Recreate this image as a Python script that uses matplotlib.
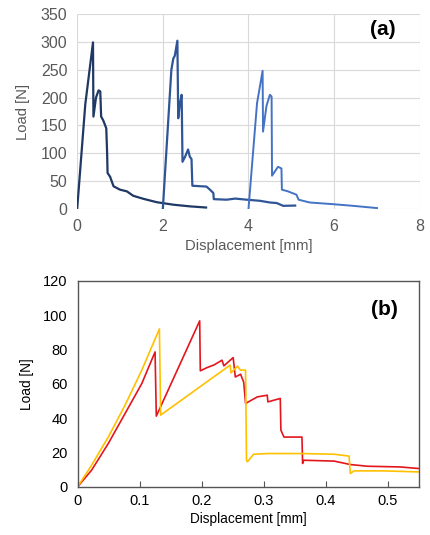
import matplotlib
matplotlib.use('Agg')
import matplotlib.pyplot as plt

plt.rcParams['font.family'] = ['Liberation Sans', 'DejaVu Sans']

# ---- panel (a): three specimens, offset along displacement ----
a1_x = [0.0, 0.19, 0.37, 0.38, 0.44, 0.50, 0.54, 0.56, 0.61, 0.68, 0.70, 0.71, 0.77, 0.85, 1.0, 1.16, 1.31, 1.55, 1.86, 2.25, 2.64, 3.01]
a1_y = [0, 188, 299, 166, 200, 213, 211, 166, 159, 145, 100, 65, 58, 41, 35, 32, 24, 18.5, 12.5, 8, 5, 3]

a2_x = [2.0, 2.20, 2.245, 2.28, 2.34, 2.36, 2.40, 2.44, 2.46, 2.52, 2.59, 2.63, 2.67, 2.69, 3.02, 3.10, 3.18, 3.19, 3.49, 3.69, 3.96, 4.27, 4.50, 4.66, 4.81, 5.09]
a2_y = [0, 250, 270, 275, 302, 163, 190, 205, 85, 94, 107, 94, 90, 42, 40.5, 35, 29, 18, 17, 19, 17, 15, 12, 11, 6, 6.5]

a3_x = [4.0, 4.20, 4.33, 4.34, 4.42, 4.50, 4.54, 4.55, 4.62, 4.69, 4.77, 4.78, 4.92, 5.12, 5.17, 5.43, 5.97, 6.44, 7.0]
a3_y = [0, 190, 248, 139, 185, 205, 202, 60, 68, 76, 73, 35, 32, 26, 17, 12, 9, 6, 2]

# ---- panel (b) ----
red_x = [0.0, 0.0226, 0.0496, 0.0766, 0.1036, 0.125, 0.127, 0.197, 0.198, 0.209, 0.22, 0.233, 0.236, 0.251, 0.2545, 0.263, 0.268, 0.271,
         0.29, 0.306, 0.307, 0.327, 0.328, 0.333, 0.362, 0.363, 0.365, 0.414, 0.44, 0.468, 0.52, 0.55]
red_y = [0, 9.7, 25.3, 42.7, 60.2, 78.6, 41.2, 96.7, 67.6, 69.5, 71, 73.8, 70.5, 75.3, 64, 65.6, 61, 48.6,
         52.4, 53.4, 49.5, 51.5, 33, 29, 29, 13.6, 15.5, 15, 13, 12, 11.6, 10.7]

yel_x = [0.0, 0.0226, 0.0496, 0.0766, 0.1036, 0.132, 0.134, 0.246, 0.2475, 0.258, 0.2626, 0.271, 0.2725, 0.274, 0.284, 0.306, 0.36, 0.414, 0.438, 0.44, 0.446, 0.494, 0.55]
yel_y = [0, 12.6, 29.1, 47.6, 68, 92, 41.8, 70.9, 66.4, 70.3, 68, 68, 15.5, 14.6, 19, 19.4, 19.4, 19, 17.9, 7.8, 9.3, 9.3, 8.7]

fig = plt.figure(figsize=(4.31, 5.35), dpi=100)

# top panel, excel look
ax1 = fig.add_axes([0.179, 0.609, 0.795, 0.365])
ax1.plot(a1_x, a1_y, color='#1F3864', lw=1.6)
ax1.plot(a2_x, a2_y, color='#2F5597', lw=1.6)
ax1.plot(a3_x, a3_y, color='#4472C4', lw=1.4)
ax1.set_xlim(0, 8)
ax1.set_ylim(0, 350)
ax1.set_xticks([0, 2, 4, 6, 8])
ax1.set_yticks(range(0, 351, 50))
ax1.grid(True, color='#D9D9D9', lw=0.8)
ax1.set_axisbelow(True)
for s in ax1.spines.values():
    s.set_visible(False)
ax1.tick_params(length=0, labelsize=11.5, colors='#595959', pad=7)
ax1.set_xlabel('Displacement [mm]', fontsize=10.7, color='#595959', labelpad=4)
ax1.set_ylabel('Load [N]', fontsize=10.7, color='#595959', labelpad=8)
ax1.text(0.93, 0.92, '(a)', transform=ax1.transAxes, fontsize=15, fontweight='bold', ha='right', va='center')

# bottom panel
ax2 = fig.add_axes([0.180, 0.090, 0.791, 0.385])
ax2.plot(red_x, red_y, color='#E3161D', lw=1.2)
ax2.plot(yel_x, yel_y, color='#FFC000', lw=1.2)
ax2.set_xlim(0, 0.55)
ax2.set_ylim(0, 120)
ax2.set_xticks([0, 0.1, 0.2, 0.3, 0.4, 0.5])
ax2.set_xticklabels(['0', '0.1', '0.2', '0.3', '0.4', '0.5'])
ax2.set_yticks(range(0, 121, 20))
for s in ax2.spines.values():
    s.set_color('#555555')
    s.set_linewidth(1.0)
ax2.tick_params(axis='x', direction='in', length=4, color='#555555', labelsize=10.5, pad=5)
ax2.tick_params(axis='y', length=0, labelsize=10.5, pad=7)
ax2.set_xlabel('Displacement [mm]', fontsize=9.8, labelpad=3)
ax2.set_ylabel('Load [N]', fontsize=9.8, labelpad=7)
ax2.text(0.94, 0.86, '(b)', transform=ax2.transAxes, fontsize=15, fontweight='bold', ha='right', va='center')

fig.savefig('out.png', dpi=100)
